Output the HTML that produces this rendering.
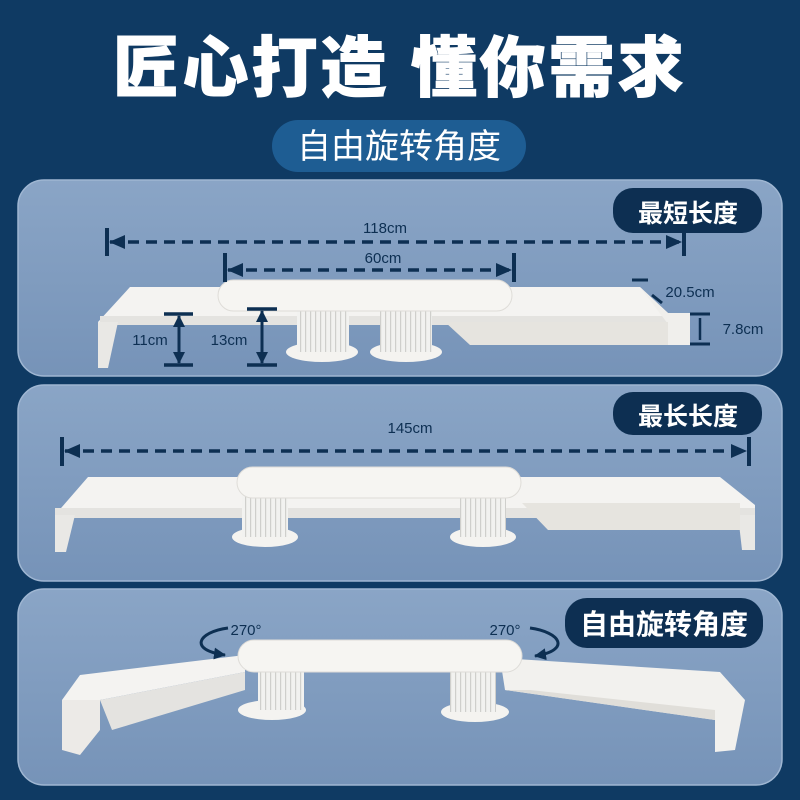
<!DOCTYPE html>
<html><head><meta charset="utf-8"><style>
html,body{margin:0;padding:0;width:800px;height:800px;overflow:hidden;background:#0f3a63;}
svg{display:block}
text{font-family:"Liberation Sans","Noto Sans CJK SC",sans-serif;}
</style></head><body>
<svg width="800" height="800" viewBox="0 0 800 800" xmlns="http://www.w3.org/2000/svg">
<defs>
<linearGradient id="pg" x1="0" y1="0" x2="0" y2="1"><stop offset="0" stop-color="#8aa5c6"/><stop offset="1" stop-color="#7693b8"/></linearGradient>
<pattern id="st" width="5" height="10" patternUnits="userSpaceOnUse"><rect width="5" height="10" fill="#f2f2f0"/><rect width="1.2" height="10" fill="#cfcfcc"/></pattern>
<marker id="ah" markerUnits="userSpaceOnUse" markerWidth="16" markerHeight="14" refX="15" refY="7" orient="auto-start-reverse"><path d="M0,0 L16,7 L0,14 z" fill="#0d2f52"/></marker>
<marker id="as" markerUnits="userSpaceOnUse" markerWidth="12" markerHeight="12" refX="11" refY="6" orient="auto-start-reverse"><path d="M0,0 L12,6 L0,12 z" fill="#0d2f52"/></marker>
</defs>
<rect width="800" height="800" fill="#0f3a63"/>
<text x="400" y="91" text-anchor="middle" font-size="66" font-weight="900" fill="#fff" letter-spacing="3" stroke="#fff" stroke-width="1">匠心打造 懂你需求</text>
<rect x="272" y="120" width="254" height="52" rx="26" fill="#1e5d93"/>
<text x="399" y="158" text-anchor="middle" font-size="34" fill="#fff">自由旋转角度</text>

<rect x="18" y="180" width="764" height="196" rx="26" fill="url(#pg)" stroke="#9fb6d2" stroke-width="1.5"/>
<rect x="18" y="385" width="764" height="196" rx="26" fill="url(#pg)" stroke="#9fb6d2" stroke-width="1.5"/>
<rect x="18" y="589" width="764" height="196" rx="26" fill="url(#pg)" stroke="#9fb6d2" stroke-width="1.5"/>

<!-- panel 1 -->
<g>
<polygon points="98,322 130,287 640,287 668,313 668,324 98,324" fill="#f4f3f1"/>
<rect x="100" y="316" width="590" height="9" fill="#e4e3e0"/>
<polygon points="98,322 118,322 108,368 98,368" fill="#e9e8e5"/>
<polygon points="640,287 668,313 690,313 690,345 668,345 668,324" fill="#f0efec"/>
<polygon points="445,322 668,322 668,345 470,345" fill="#e6e4df"/>
<ellipse cx="322" cy="352" rx="36" ry="10" fill="#f4f3f0"/>
<ellipse cx="406" cy="352" rx="36" ry="10" fill="#f4f3f0"/>
<rect x="297" y="308" width="52" height="44" fill="url(#st)"/>
<rect x="380" y="308" width="52" height="44" fill="url(#st)"/>
<rect x="218" y="280" width="294" height="31" rx="15.5" fill="#f6f5f2" stroke="#dedcd8"/>
<g stroke="#0d2f52" stroke-width="4" fill="none">
<line x1="107" y1="228" x2="107" y2="256"/><line x1="684" y1="228" x2="684" y2="256"/>
<line x1="110" y1="242" x2="681" y2="242" stroke-dasharray="11,7" marker-start="url(#ah)" marker-end="url(#ah)" stroke-width="3.5"/>
<line x1="225" y1="253" x2="225" y2="282"/><line x1="514" y1="253" x2="514" y2="282"/>
<line x1="228" y1="270" x2="511" y2="270" stroke-dasharray="11,7" marker-start="url(#ah)" marker-end="url(#ah)" stroke-width="3.5"/>
<line x1="164" y1="314" x2="193" y2="314" stroke-width="3.5"/><line x1="164" y1="365" x2="193" y2="365" stroke-width="3.5"/>
<line x1="179" y1="316" x2="179" y2="363" stroke-width="3" marker-start="url(#as)" marker-end="url(#as)"/>
<line x1="247" y1="309" x2="277" y2="309" stroke-width="3.5"/><line x1="247" y1="365" x2="277" y2="365" stroke-width="3.5"/>
<line x1="262" y1="311" x2="262" y2="363" stroke-width="3" marker-start="url(#as)" marker-end="url(#as)"/>
<line x1="632" y1="280" x2="648" y2="280" stroke-width="3"/><line x1="652" y1="295" x2="662" y2="303" stroke-width="3"/>
<line x1="690" y1="314" x2="710" y2="314" stroke-width="3"/><line x1="690" y1="344" x2="710" y2="344" stroke-width="3"/>
<line x1="700" y1="318" x2="700" y2="340" stroke-width="2.5"/>
</g>
<g font-size="15" fill="#0d2f52">
<text x="385" y="233" text-anchor="middle">118cm</text>
<text x="383" y="263" text-anchor="middle">60cm</text>
<text x="150" y="345" text-anchor="middle">11cm</text>
<text x="229" y="345" text-anchor="middle">13cm</text>
<text x="690" y="297" text-anchor="middle">20.5cm</text>
<text x="743" y="334" text-anchor="middle">7.8cm</text>
</g>
<rect x="613" y="188" width="149" height="45" rx="20" fill="#0d2f52"/>
<text x="688" y="222" text-anchor="middle" font-size="25" font-weight="bold" fill="#fff">最短长度</text>
</g>

<!-- panel 2 -->
<g>
<polygon points="55,515 88,477 720,477 755,505 755,518 55,518" fill="#f4f3f1"/>
<rect x="55" y="508" width="700" height="10" fill="#e4e3e0"/>
<polygon points="55,515 75,515 66,552 55,552" fill="#e9e8e5"/>
<polygon points="738,515 755,515 755,550 742,550" fill="#e9e8e5"/>
<polygon points="522,503 740,503 740,530 548,530" fill="#e6e4df"/>
<ellipse cx="265" cy="537" rx="33" ry="10" fill="#f4f3f0"/>
<ellipse cx="483" cy="537" rx="33" ry="10" fill="#f4f3f0"/>
<rect x="242" y="495" width="46" height="42" fill="url(#st)"/>
<rect x="460" y="495" width="46" height="42" fill="url(#st)"/>
<rect x="237" y="467" width="284" height="31" rx="15.5" fill="#f6f5f2" stroke="#dedcd8"/>
<g stroke="#0d2f52" fill="none">
<line x1="62" y1="437" x2="62" y2="466" stroke-width="4"/><line x1="749" y1="437" x2="749" y2="466" stroke-width="4"/>
<line x1="65" y1="451" x2="746" y2="451" stroke-dasharray="11,7" marker-start="url(#ah)" marker-end="url(#ah)" stroke-width="3.5"/>
</g>
<text x="410" y="433" text-anchor="middle" font-size="15" fill="#0d2f52">145cm</text>
<rect x="613" y="392" width="149" height="43" rx="20" fill="#0d2f52"/>
<text x="688" y="425" text-anchor="middle" font-size="25" font-weight="bold" fill="#fff">最长长度</text>
</g>

<!-- panel 3 -->
<g>
<polygon points="62,700 80,675 245,655 245,672 100,700" fill="#f4f3f1"/>
<polygon points="62,700 100,700 100,730 80,755 62,750" fill="#eceae7"/>
<polygon points="100,700 245,672 245,690 112,730" fill="#e4e3e0"/>
<polygon points="500,658 720,672 745,700 735,750 715,752 715,720 505,690" fill="#f2f1ee"/>
<polygon points="505,690 715,720 715,710 530,690" fill="#e0ded9"/>
<ellipse cx="272" cy="710" rx="34" ry="10" fill="#f4f3f0"/>
<ellipse cx="475" cy="712" rx="34" ry="10" fill="#f4f3f0"/>
<rect x="258" y="668" width="46" height="42" fill="url(#st)"/>
<rect x="450" y="668" width="46" height="44" fill="url(#st)"/>
<rect x="238" y="640" width="284" height="32" rx="16" fill="#f6f5f2" stroke="#dedcd8"/>
<g stroke="#0d2f52" stroke-width="3" fill="none">
<path d="M228,628 C198,632 188,650 225,655" marker-end="url(#as)"/>
<path d="M530,628 C560,632 572,650 535,656" marker-end="url(#as)"/>
</g>
<text x="246" y="635" text-anchor="middle" font-size="15" fill="#0d2f52">270°</text>
<text x="505" y="635" text-anchor="middle" font-size="15" fill="#0d2f52">270°</text>
<rect x="565" y="598" width="198" height="50" rx="22" fill="#0d2f52"/>
<text x="664" y="634" text-anchor="middle" font-size="28" font-weight="bold" fill="#fff">自由旋转角度</text>
</g>
</svg>
</body></html>
